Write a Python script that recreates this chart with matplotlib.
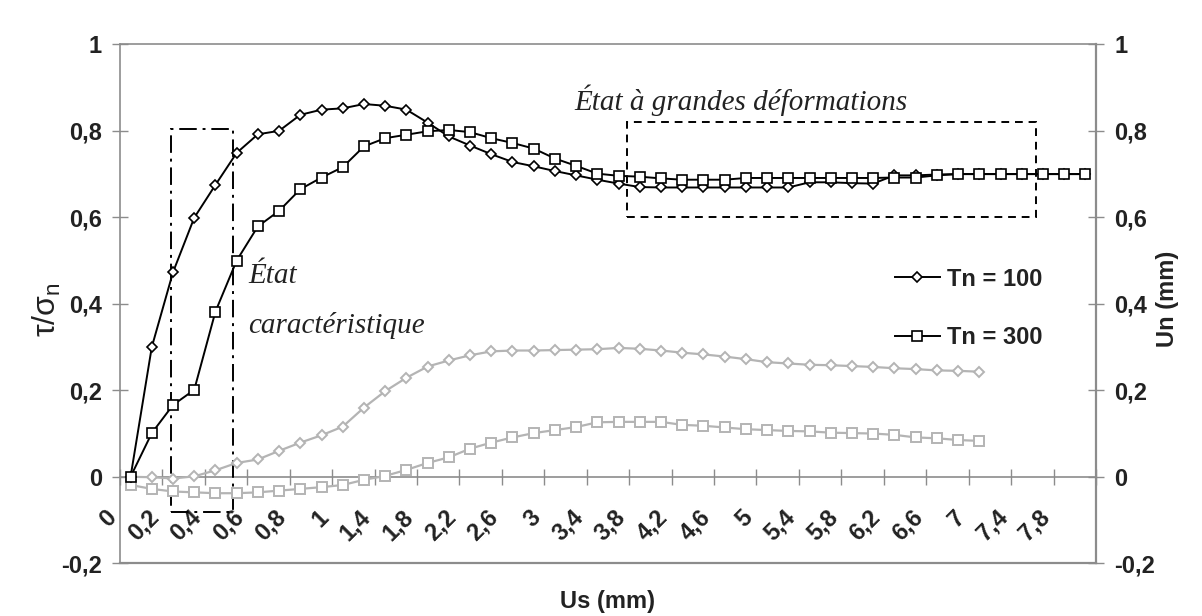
import matplotlib
matplotlib.use("Agg")
import numpy as np
import matplotlib.pyplot as plt
from matplotlib.patches import Rectangle

# Us (mm) categories, as on the Excel category axis
us = [0, 0.1, 0.2, 0.3, 0.4, 0.5, 0.6, 0.7, 0.8, 0.9, 1.0,
      1.2, 1.4, 1.6, 1.8, 2.0, 2.2, 2.4, 2.6, 2.8, 3.0,
      3.2, 3.4, 3.6, 3.8, 4.0, 4.2, 4.4, 4.6, 4.8, 5.0,
      5.2, 5.4, 5.6, 5.8, 6.0, 6.2, 6.4, 6.6, 6.8, 7.0,
      7.2, 7.4, 7.6, 7.8, 8.0]

# tau / sigma_n
tau_100 = [0.0, 0.30, 0.473, 0.599, 0.675, 0.749, 0.792, 0.800, 0.837, 0.849,
           0.852, 0.862, 0.858, 0.849, 0.819, 0.787, 0.766, 0.746, 0.728, 0.718,
           0.707, 0.697, 0.687, 0.678, 0.670, 0.669, 0.669, 0.669, 0.669, 0.669,
           0.669, 0.669, 0.681, 0.681, 0.679, 0.678, 0.697, 0.697, 0.699, 0.700,
           0.700, 0.700, 0.700, 0.700, 0.700, 0.700]
tau_300 = [0.0, 0.101, 0.166, 0.201, 0.382, 0.500, 0.579, 0.615, 0.665, 0.692,
           0.716, 0.764, 0.783, 0.791, 0.799, 0.802, 0.797, 0.783, 0.772, 0.759,
           0.736, 0.719, 0.701, 0.696, 0.694, 0.690, 0.687, 0.687, 0.687, 0.691,
           0.691, 0.691, 0.691, 0.691, 0.691, 0.691, 0.692, 0.692, 0.697, 0.700,
           0.700, 0.700, 0.700, 0.700, 0.700, 0.700]

# Un (mm), secondary axis
un_100 = [0.0, -0.001, -0.004, 0.001, 0.015, 0.032, 0.040, 0.060, 0.079, 0.096,
          0.116, 0.160, 0.198, 0.229, 0.255, 0.269, 0.281, 0.290, 0.292, 0.292,
          0.293, 0.294, 0.295, 0.298, 0.296, 0.292, 0.287, 0.283, 0.278, 0.272,
          0.265, 0.262, 0.259, 0.258, 0.256, 0.254, 0.251, 0.249, 0.246, 0.245,
          0.243]
un_300 = [-0.019, -0.028, -0.034, -0.036, -0.038, -0.038, -0.036, -0.032, -0.028, -0.024,
          -0.019, -0.007, 0.002, 0.016, 0.032, 0.045, 0.065, 0.079, 0.091, 0.101,
          0.108, 0.115, 0.126, 0.127, 0.127, 0.127, 0.120, 0.118, 0.114, 0.110,
          0.108, 0.106, 0.105, 0.102, 0.101, 0.100, 0.097, 0.091, 0.089, 0.085,
          0.083]

yticks = [-0.2, 0, 0.2, 0.4, 0.6, 0.8, 1]
ylabels = ['-0,2', '0', '0,2', '0,4', '0,6', '0,8', '1']

sans = 'Liberation Sans'
serif = 'Liberation Serif'
grid_col = '#8c8c8c'
light = '#b4b4b4'
txt = '#222222'
fs = 17

fig = plt.figure(figsize=(12.02, 6.16), dpi=100)
ax = fig.add_axes([0.0998, 0.0856, 0.812, 0.8424])
ax2 = ax.twinx()

x = np.arange(len(us))
xu = np.arange(len(un_100))

ax2.plot(xu, un_100, color=light, lw=1.6, marker='D', ms=5.2, mfc='white',
         mec=light, mew=1.4)
ax2.plot(xu, un_300, color=light, lw=1.6, marker='s', ms=7, mfc='white',
         mec=light, mew=1.4)
ax2.plot(x, tau_100, color='black', lw=1.4, marker='D', ms=5.2, mfc='white',
         mec='black', mew=1.2, label='Tn = 100')
ax2.plot(x, tau_300, color='black', lw=1.4, marker='s', ms=7.5, mfc='white',
         mec='black', mew=1.2, label='Tn = 300')

for a in (ax, ax2):
    a.set_xlim(-0.5, len(us) - 0.5)
    a.set_ylim(-0.2, 1)
    a.set_yticks(yticks)

# spines: x axis crosses at 0, frame all around
for s in ax.spines.values():
    s.set_color(grid_col)
    s.set_linewidth(1.2)
ax.spines['bottom'].set_position(('data', 0))
ax.spines['right'].set_visible(False)
for name, s in ax2.spines.items():
    s.set_color(grid_col)
    s.set_linewidth(1.6)
    s.set_visible(name in ('right', 'bottom'))

ax.set_xticks(np.arange(-0.5, len(us), 2))
ax.set_xticklabels([])
ax.tick_params(axis='x', direction='inout', length=12, width=1, color=grid_col)
ax.tick_params(axis='y', direction='inout', length=12, width=1, color=grid_col, pad=7)
ax2.tick_params(axis='y', direction='inout', length=12, width=1, color=grid_col, pad=7)
ax.set_yticklabels(ylabels, fontsize=fs, fontweight='bold', family=sans, color=txt)
ax2.set_yticklabels(ylabels, fontsize=fs, fontweight='bold', family=sans, color=txt)

# category labels, every second category, rotated like Excel
for i in range(0, len(us), 2):
    lab = f"{us[i]:g}".replace('.', ',')
    ax.text(i - 0.85, -0.086, lab, rotation=45, rotation_mode='anchor',
            ha='right', va='center', fontsize=fs, fontweight='bold',
            family=sans, color=txt)

ax.text(0.5, -0.074, 'Us (mm)', transform=ax.transAxes, ha='center', va='center',
        fontsize=fs, fontweight='bold', family=sans, color=txt)
fig.text(0.039, 0.497, 'τ/σ$_\\mathregular{n}$', rotation=90, ha='center', va='center',
         fontsize=23, family=sans, color=txt)
fig.text(0.9715, 0.515, 'Un (mm)', rotation=90, ha='center', va='center',
         fontsize=fs, fontweight='bold', family=sans, color=txt)

# zones
ax2.add_patch(Rectangle((1.9, -0.082), 2.92, 0.886, fill=False, color='black',
                        lw=1.4, linestyle=(0, (9, 3, 1.5, 3))))
ax2.add_patch(Rectangle((23.4, 0.600), 19.26, 0.221, fill=False, color='black',
                        lw=1.4, linestyle=(0, (4, 3))))
ax2.text(20.9, 0.849, 'État à grandes déformations', fontsize=21, style='italic',
         family=serif, color=txt, va='baseline')
ax2.text(5.53, 0.449, 'État', fontsize=21, style='italic', family=serif,
         color=txt, va='baseline')
ax2.text(5.53, 0.333, 'caractéristique', fontsize=21, style='italic', family=serif,
         color=txt, va='baseline')

leg = ax2.legend(loc='upper left', bbox_to_anchor=(0.7446, 0.5655),
                 bbox_transform=fig.transFigure, frameon=False, numpoints=1,
                 handlelength=1.9, handletextpad=0.3, borderpad=0, borderaxespad=0,
                 labelspacing=1.5, prop={'family': sans, 'weight': 'bold', 'size': fs})
for t in leg.get_texts():
    t.set_color(txt)

fig.savefig('out.png', dpi=100)
